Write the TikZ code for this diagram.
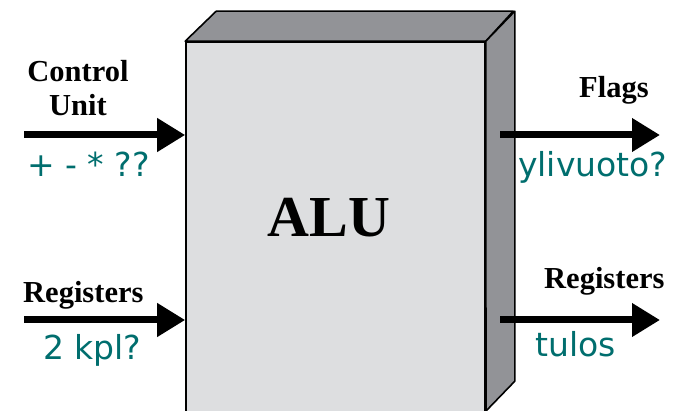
\documentclass[tikz,border=0pt]{standalone}
\usepackage{fontspec}
\setmainfont{Liberation Serif}
\newfontfamily\notefont{DejaVu Sans}
\usetikzlibrary{arrows.meta}
\definecolor{facegray}{RGB}{221,222,224}
\definecolor{sidegray}{RGB}{146,147,151}
\definecolor{noteteal}{RGB}{0,110,110}

\begin{document}
\begin{tikzpicture}[x=1pt,y=-1pt,
   box/.style={draw=black,line width=1.6pt,line join=round},
   bigarrow/.style={line width=7pt,-{Triangle[length=28pt,width=32pt]}},
   port/.style={font=\fontsize{30.5}{33}\selectfont\bfseries,inner sep=0pt,anchor=base west},
   note/.style={font=\notefont\fontsize{33}{36}\selectfont,text=noteteal,inner sep=0pt,anchor=base west}]
   \useasboundingbox[fill=white] (0,0) rectangle (680,411);
   % front face, top and side of the block
   \node (alu) [box,fill=facegray,minimum width=299pt,minimum height=372pt,inner sep=0pt] at (335.5,228) {};
   \filldraw[box,fill=sidegray] (alu.north west) -- ++(31,-30) -- ++(297,0) -- (alu.north east) -- cycle;
   \filldraw[box,fill=sidegray] (alu.north east) -- ++(29,-30) -- ++(0,370) -- (486,411) -- cycle;
   \node (alutext) [font=\fontsize{58}{60}\selectfont\bfseries,inner sep=0pt,anchor=base] at (329,237) {ALU};
   % inputs
   \coordinate (cu) at (24,135);
   \coordinate (regin) at (24,320);
   \draw[bigarrow] (cu) -- (cu -| alu.west);
   \draw[bigarrow] (regin) -- (regin -| alu.west);
   \node (cutext) [font=\fontsize{30.5}{34}\selectfont\bfseries,inner sep=0pt,align=center] at (78,88) {Control\\Unit};
   \node (regintext) [port] at (23,303) {Registers};
   \node (ops) [note] at (27,177) {+ - * ??};
   \node (kpl) [note] at (43,360) {2 kpl?};
   % outputs
   \coordinate (flstart) at (500,135);
   \coordinate (flend) at (660,135);
   \coordinate (regstart) at (500,320);
   \coordinate (regend) at (660,320);
   \draw[bigarrow] (flstart) -- (flend);
   \draw[bigarrow] (regstart) -- (regend);
   \node (flagtext) [port] at (579,98) {Flags};
   \node (regouttext) [port] at (544,289) {Registers};
   \node (ovf) [note] at (518,177) {ylivuoto?};
   \node (res) [note] at (535,357) {tulos};
\end{tikzpicture}
\end{document}
